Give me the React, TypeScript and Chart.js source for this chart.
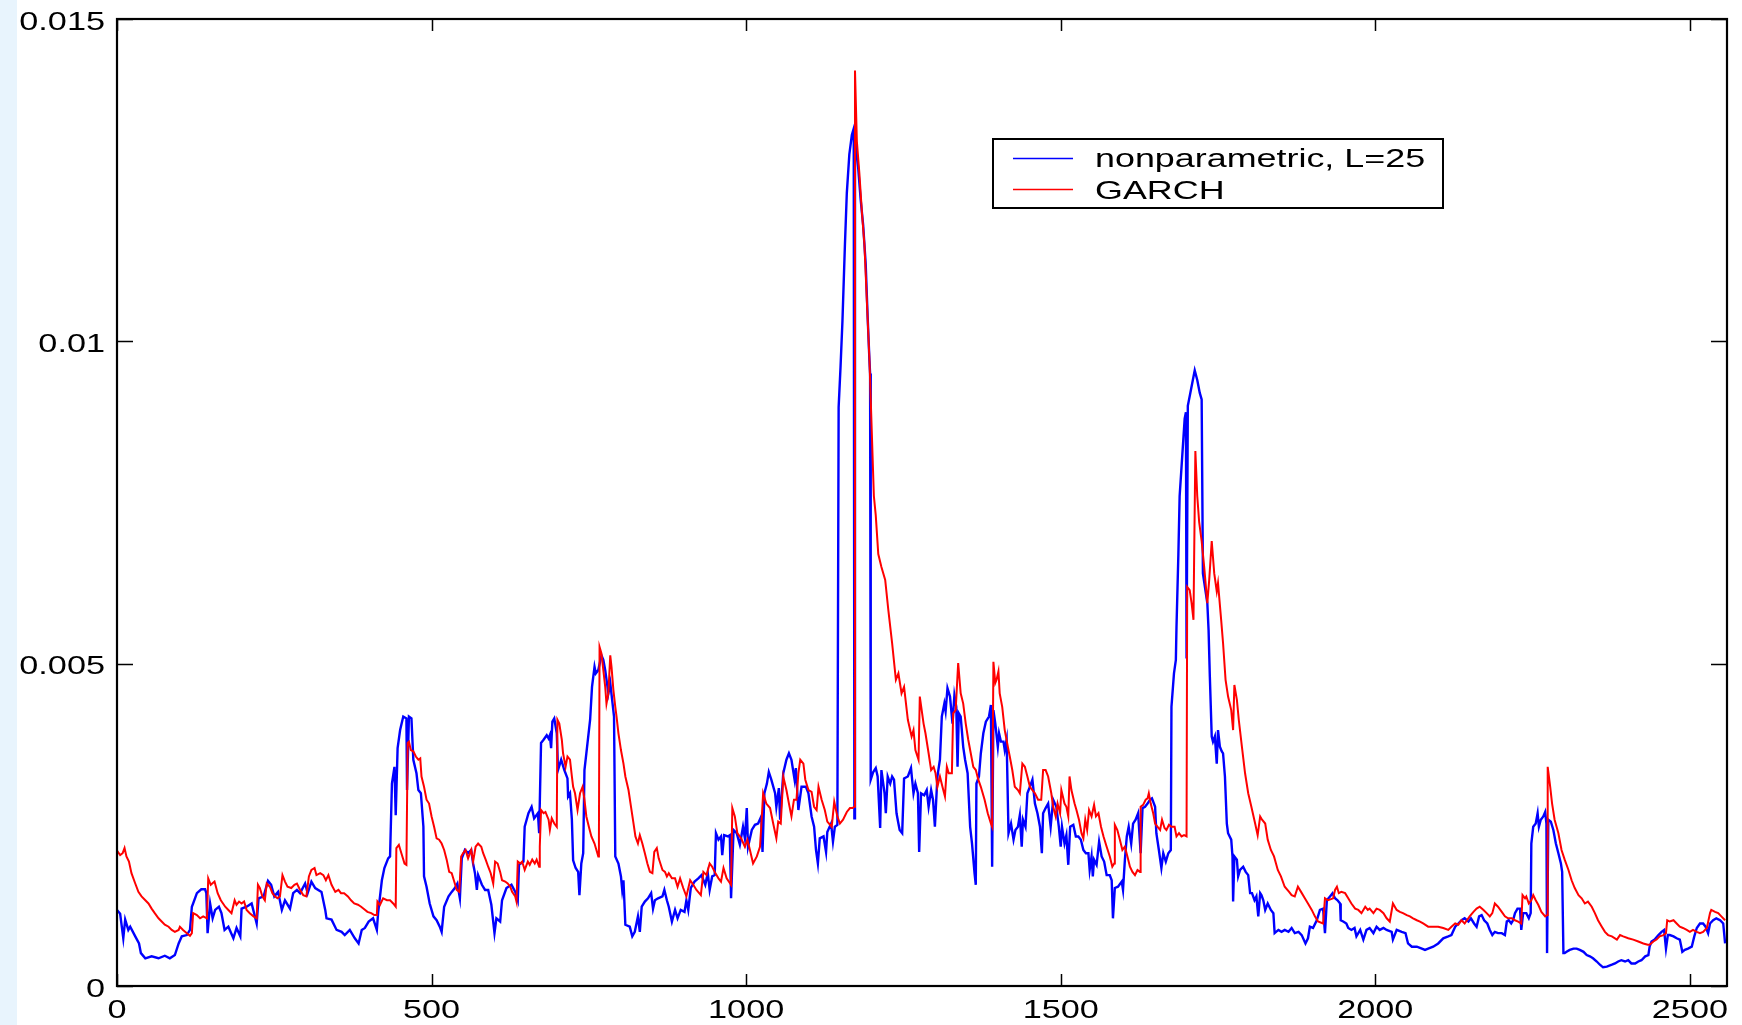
import { useEffect, useRef } from "react";
import { Chart, registerables } from "chart.js";

Chart.register(...registerables);

// Daily volatility estimates, [day index, value in units of 1e-3]
const nonparametricPoints: [number, number][] = [
  [0,1.18],[5,1.12],[10,0.74],[13,1.03],[18,0.87],[21,0.92],[29,0.77],[35,0.66],[38,0.51],[45,0.43],[55,0.46],[66,0.43],[76,0.47],[84,0.43],[92,0.48],[98,0.66],[103,0.77],[111,0.79],[116,0.87],[119,1.23],[121,1.28],[127,1.44],[134,1.5],[140,1.5],[142,1.44],[144,0.82],[148,1.28],[152,1.05],[156,1.18],[162,1.23],[166,1.13],[171,0.87],[177,0.92],[185,0.74],[190,0.9],[196,0.77],[198,1.2],[206,1.23],[214,1.28],[222,0.97],[225,1.36],[233,1.39],[240,1.63],[245,1.57],[250,1.39],[256,1.46],[262,1.18],[267,1.33],[275,1.2],[280,1.44],[286,1.49],[291,1.44],[299,1.59],[303,1.44],[309,1.62],[315,1.52],[325,1.46],[331,1.18],[333,1.05],[341,1.03],[349,0.87],[357,0.84],[362,0.79],[370,0.87],[378,0.74],[384,0.66],[389,0.87],[394,0.9],[400,1.0],[407,1.05],[413,0.87],[415,1.13],[421,1.64],[425,1.83],[431,1.98],[434,2.01],[437,3.14],[441,3.4],[443,2.65],[446,3.69],[450,3.97],[455,4.18],[460,4.15],[461,3.04],[464,4.18],[468,4.15],[471,3.51],[476,3.3],[479,3.04],[483,2.99],[487,2.47],[488,1.7],[492,1.54],[497,1.28],[503,1.08],[508,1.02],[513,0.92],[516,0.84],[520,1.23],[527,1.39],[532,1.46],[537,1.52],[541,1.59],[545,1.36],[548,1.98],[553,2.11],[558,2.06],[563,2.11],[566,1.9],[569,1.75],[572,1.49],[574,1.72],[580,1.57],[585,1.49],[590,1.49],[595,1.26],[600,0.82],[603,1.05],[609,1.0],[612,1.33],[619,1.52],[627,1.57],[633,1.46],[637,1.33],[639,1.88],[646,1.93],[648,2.47],[654,2.68],[659,2.78],[663,2.6],[669,2.68],[671,2.37],[674,3.77],[678,3.82],[683,3.89],[686,3.84],[688,3.89],[690,3.69],[692,4.1],[695,4.15],[699,3.92],[701,3.35],[706,3.51],[711,3.35],[716,3.22],[717,2.94],[720,2.99],[723,2.58],[725,1.95],[729,1.83],[733,1.77],[735,1.41],[738,1.9],[741,2.06],[743,3.35],[746,3.61],[752,4.13],[755,4.64],[759,4.95],[761,4.85],[765,4.9],[770,5.13],[773,5.06],[776,4.9],[781,4.54],[784,4.7],[787,4.44],[790,4.18],[792,2.01],[797,1.9],[801,1.7],[803,1.49],[805,1.64],[808,0.95],[815,0.92],[819,0.77],[823,0.84],[828,1.08],[831,0.84],[834,1.23],[839,1.31],[844,1.36],[849,1.44],[852,1.2],[855,1.33],[860,1.36],[867,1.39],[870,1.49],[874,1.33],[877,1.23],[882,1.0],[887,1.18],[891,1.05],[896,1.18],[902,1.15],[905,1.33],[908,1.18],[912,1.52],[918,1.62],[924,1.67],[929,1.72],[935,1.57],[939,1.75],[942,1.49],[946,1.7],[950,1.72],[952,2.37],[956,2.27],[960,2.32],[962,2.03],[965,2.34],[971,2.32],[974,2.34],[976,1.36],[980,2.42],[985,2.37],[990,2.19],[995,2.47],[998,2.29],[1001,2.76],[1003,2.16],[1009,2.42],[1014,2.5],[1019,2.52],[1024,2.63],[1026,2.08],[1029,2.99],[1033,3.14],[1036,3.32],[1040,3.2],[1046,2.99],[1048,2.78],[1052,3.07],[1054,2.58],[1059,3.3],[1064,3.51],[1068,3.61],[1072,3.51],[1077,3.2],[1079,3.38],[1083,2.73],[1088,3.09],[1095,3.09],[1099,2.99],[1104,2.63],[1108,2.47],[1111,2.11],[1114,1.9],[1117,2.29],[1123,2.32],[1127,2.08],[1129,2.39],[1135,2.52],[1138,2.24],[1141,2.47],[1145,2.5],[1147,8.98],[1150,9.6],[1153,10.3],[1157,11.5],[1160,12.3],[1164,12.9],[1168,13.2],[1171,13.3],[1172,2.6],[1173,13.2],[1178,12.7],[1182,12.2],[1186,11.8],[1190,11.2],[1193,10.4],[1196,9.7],[1197,9.5],[1198,3.2],[1202,3.32],[1206,3.38],[1209,3.25],[1213,2.45],[1215,3.35],[1220,2.99],[1222,2.68],[1225,3.25],[1229,3.14],[1232,3.25],[1235,3.2],[1239,2.68],[1242,2.52],[1244,2.42],[1248,2.37],[1251,3.22],[1257,3.25],[1262,3.38],[1266,2.99],[1269,3.14],[1273,2.99],[1275,2.08],[1278,2.99],[1283,2.96],[1287,3.04],[1290,2.78],[1294,3.04],[1297,2.89],[1300,2.47],[1304,3.25],[1308,3.51],[1311,4.18],[1315,4.38],[1317,4.26],[1320,4.62],[1324,4.49],[1328,4.07],[1331,4.51],[1334,4.33],[1336,3.4],[1338,4.23],[1341,4.18],[1345,3.71],[1348,3.51],[1352,3.3],[1356,2.47],[1359,2.21],[1363,1.75],[1365,1.57],[1366,3.14],[1370,3.25],[1373,3.61],[1377,3.92],[1381,4.1],[1386,4.18],[1389,4.36],[1391,1.85],[1393,4.28],[1396,4.07],[1400,3.71],[1402,3.92],[1405,3.79],[1409,3.79],[1411,3.66],[1414,3.82],[1417,2.37],[1421,2.52],[1425,2.27],[1428,2.42],[1432,2.47],[1435,2.65],[1438,2.16],[1440,2.58],[1444,2.47],[1447,2.99],[1451,3.09],[1455,3.2],[1459,2.83],[1463,2.68],[1467,2.47],[1470,2.06],[1472,2.68],[1476,2.76],[1480,2.83],[1484,2.47],[1488,2.89],[1493,2.78],[1497,2.47],[1500,2.16],[1502,2.47],[1506,2.21],[1509,2.34],[1512,1.88],[1515,2.47],[1520,2.5],[1524,2.32],[1528,2.32],[1532,2.27],[1536,2.11],[1540,2.06],[1544,2.06],[1546,1.8],[1549,2.01],[1551,1.7],[1553,1.96],[1557,1.88],[1561,2.24],[1565,2.01],[1569,1.93],[1573,1.72],[1578,1.72],[1581,1.64],[1583,1.05],[1586,1.52],[1591,1.54],[1597,1.62],[1599,1.49],[1602,1.96],[1605,2.32],[1608,2.47],[1612,2.21],[1615,2.52],[1619,2.58],[1623,2.68],[1627,2.06],[1630,2.76],[1634,2.78],[1638,2.83],[1642,2.89],[1645,2.91],[1650,2.78],[1652,2.37],[1656,2.11],[1660,1.83],[1663,2.06],[1667,1.93],[1671,2.06],[1675,2.11],[1676,4.33],[1680,4.85],[1683,5.06],[1684,5.57],[1687,6.7],[1689,7.6],[1693,8.2],[1697,8.8],[1699,8.9],[1700,5.08],[1702,9.0],[1706,9.2],[1710,9.4],[1713,9.55],[1717,9.4],[1721,9.2],[1724,9.1],[1726,6.4],[1733,5.94],[1735,5.52],[1737,4.8],[1740,3.87],[1742,3.79],[1745,3.87],[1748,3.45],[1750,3.97],[1753,3.71],[1756,3.64],[1758,3.61],[1761,3.25],[1764,2.52],[1766,2.37],[1771,2.27],[1773,2.01],[1774,1.31],[1776,2.01],[1780,1.96],[1782,1.7],[1785,1.8],[1790,1.85],[1794,1.77],[1798,1.72],[1801,1.44],[1804,1.44],[1808,1.33],[1811,1.39],[1814,1.08],[1817,1.44],[1819,1.41],[1822,1.33],[1825,1.18],[1829,1.28],[1834,1.18],[1838,1.13],[1840,0.82],[1846,0.87],[1851,0.84],[1856,0.87],[1862,0.84],[1867,0.9],[1872,0.82],[1878,0.84],[1883,0.79],[1889,0.66],[1893,0.74],[1896,0.92],[1901,0.9],[1907,1.02],[1912,1.18],[1917,1.2],[1920,0.82],[1923,1.33],[1928,1.39],[1932,1.44],[1936,1.36],[1940,1.33],[1944,1.28],[1945,1.02],[1949,1.0],[1954,0.97],[1957,0.9],[1962,0.87],[1967,0.9],[1970,0.77],[1976,0.87],[1981,0.72],[1986,0.87],[1991,0.9],[1997,0.82],[2002,0.92],[2007,0.87],[2013,0.9],[2018,0.87],[2026,0.84],[2028,0.72],[2034,0.87],[2042,0.84],[2048,0.82],[2052,0.66],[2058,0.61],[2066,0.61],[2074,0.58],[2079,0.56],[2084,0.58],[2092,0.61],[2100,0.66],[2108,0.74],[2116,0.77],[2121,0.79],[2127,0.92],[2132,0.97],[2137,1.02],[2142,1.05],[2148,1.0],[2152,1.05],[2157,0.97],[2161,0.92],[2165,1.08],[2169,1.1],[2173,1.02],[2178,0.97],[2182,0.87],[2186,0.79],[2190,0.84],[2195,0.82],[2201,0.82],[2206,0.79],[2209,1.0],[2212,1.02],[2216,0.97],[2219,1.02],[2222,1.13],[2226,1.2],[2230,1.2],[2232,0.87],[2235,1.13],[2240,1.13],[2244,1.05],[2247,1.13],[2248,2.21],[2251,2.47],[2255,2.52],[2258,2.68],[2260,2.47],[2263,2.58],[2267,2.63],[2270,2.7],[2272,2.52],[2273,0.51],[2275,2.58],[2279,2.55],[2283,2.42],[2287,2.21],[2291,2.06],[2295,1.9],[2297,1.77],[2299,0.51],[2301,0.51],[2304,0.53],[2309,0.56],[2315,0.58],[2320,0.58],[2325,0.56],[2331,0.53],[2336,0.48],[2341,0.46],[2346,0.43],[2352,0.38],[2357,0.33],[2362,0.29],[2368,0.3],[2376,0.33],[2381,0.35],[2386,0.38],[2391,0.4],[2397,0.38],[2402,0.4],[2407,0.35],[2413,0.35],[2418,0.38],[2423,0.4],[2429,0.46],[2434,0.48],[2436,0.61],[2439,0.69],[2444,0.72],[2450,0.79],[2455,0.84],[2459,0.87],[2462,0.58],[2465,0.79],[2468,0.79],[2474,0.77],[2479,0.74],[2484,0.72],[2488,0.53],[2492,0.56],[2497,0.58],[2503,0.61],[2507,0.77],[2511,0.9],[2516,0.97],[2521,0.97],[2525,0.92],[2529,0.82],[2532,0.97],[2537,1.02],[2542,1.05],[2548,1.02],[2553,0.97],[2556,0.66],
];

const garchPoints: [number, number][] = [
  [0,2.1],[5,2.03],[9,2.06],[12,2.14],[15,2.01],[19,1.93],[23,1.75],[29,1.59],[34,1.46],[39,1.39],[45,1.33],[50,1.28],[55,1.2],[60,1.13],[66,1.05],[71,1.0],[76,0.95],[82,0.92],[87,0.87],[92,0.84],[98,0.87],[100,0.92],[105,0.87],[111,0.82],[116,0.78],[119,0.82],[121,1.13],[127,1.1],[132,1.05],[137,1.08],[143,1.05],[145,1.67],[149,1.57],[155,1.62],[160,1.44],[165,1.33],[172,1.23],[177,1.18],[182,1.13],[187,1.33],[190,1.26],[194,1.31],[198,1.28],[202,1.31],[206,1.18],[211,1.13],[217,1.08],[222,1.05],[224,1.57],[227,1.52],[231,1.39],[235,1.33],[238,1.59],[243,1.54],[247,1.44],[251,1.39],[255,1.36],[259,1.39],[263,1.72],[267,1.62],[271,1.54],[277,1.52],[282,1.57],[286,1.59],[291,1.49],[296,1.41],[301,1.39],[305,1.7],[309,1.8],[314,1.83],[317,1.72],[323,1.75],[328,1.72],[332,1.64],[336,1.72],[341,1.57],[347,1.46],[352,1.49],[356,1.44],[361,1.44],[367,1.39],[372,1.33],[377,1.28],[383,1.26],[388,1.23],[393,1.19],[398,1.15],[404,1.13],[409,1.1],[413,1.1],[414,1.31],[418,1.26],[423,1.36],[429,1.33],[434,1.33],[439,1.28],[443,1.23],[444,2.14],[448,2.19],[452,2.06],[457,1.9],[460,1.88],[462,3.77],[464,3.79],[467,3.66],[471,3.64],[475,3.56],[479,3.51],[482,3.53],[484,3.25],[488,3.09],[492,2.89],[496,2.83],[500,2.63],[504,2.47],[508,2.29],[512,2.27],[516,2.21],[520,2.11],[524,1.96],[528,1.77],[532,1.75],[536,1.62],[540,1.49],[544,1.46],[547,2.01],[550,2.06],[554,2.11],[558,1.98],[563,2.11],[566,1.93],[570,2.16],[574,2.21],[579,2.16],[582,2.06],[586,1.96],[590,1.85],[594,1.75],[598,1.59],[601,1.93],[605,1.9],[609,1.77],[612,1.64],[617,1.62],[621,1.59],[625,1.54],[628,1.46],[633,1.39],[635,1.31],[637,1.93],[641,1.9],[644,1.93],[648,1.8],[653,1.93],[656,1.88],[660,1.96],[664,1.9],[667,1.96],[671,1.85],[672,2.16],[674,2.73],[678,2.68],[681,2.7],[686,2.58],[688,2.42],[691,2.6],[695,2.52],[699,2.47],[700,4.13],[703,4.07],[707,3.82],[709,3.61],[713,3.4],[716,3.56],[720,3.51],[723,3.25],[725,3.09],[728,2.99],[732,2.73],[736,2.99],[740,3.09],[743,2.89],[746,2.63],[750,2.47],[754,2.32],[759,2.21],[762,2.11],[765,2.01],[766,2.32],[767,5.26],[770,5.16],[773,4.9],[776,4.64],[778,4.38],[781,4.54],[784,5.13],[786,4.95],[789,4.59],[792,4.33],[794,4.18],[797,3.92],[801,3.66],[805,3.45],[808,3.25],[813,3.04],[817,2.78],[821,2.52],[824,2.32],[828,2.21],[831,2.34],[835,2.21],[839,2.06],[843,1.9],[847,1.77],[851,1.75],[854,2.08],[858,2.14],[861,1.98],[867,1.8],[871,1.77],[874,1.7],[877,1.75],[882,1.67],[887,1.67],[891,1.54],[895,1.67],[900,1.52],[905,1.39],[911,1.64],[916,1.57],[921,1.49],[928,1.41],[932,1.77],[937,1.72],[942,1.9],[946,1.85],[950,1.77],[956,1.67],[960,1.62],[964,1.83],[969,1.67],[976,1.57],[978,2.76],[982,2.63],[986,2.37],[992,2.29],[998,2.16],[1002,2.27],[1006,2.11],[1011,1.9],[1017,2.01],[1022,2.16],[1024,2.47],[1027,2.99],[1032,2.83],[1038,2.76],[1043,2.52],[1048,2.29],[1051,2.55],[1055,2.52],[1059,3.25],[1064,3.04],[1068,2.83],[1072,2.63],[1076,2.89],[1080,2.89],[1083,3.3],[1086,3.51],[1091,3.45],[1094,3.2],[1099,3.04],[1104,3.01],[1108,2.78],[1112,2.73],[1115,3.09],[1120,2.89],[1125,2.73],[1129,2.55],[1136,2.47],[1140,2.86],[1145,2.63],[1149,2.52],[1154,2.58],[1160,2.7],[1165,2.76],[1169,2.76],[1172,2.78],[1173,14.2],[1176,13.1],[1180,12.6],[1184,12.0],[1188,11.5],[1192,10.6],[1196,9.7],[1200,8.5],[1203,7.6],[1206,7.3],[1210,6.7],[1215,6.5],[1221,6.3],[1226,5.83],[1232,5.32],[1238,4.75],[1242,4.85],[1247,4.54],[1251,4.64],[1257,4.13],[1263,3.87],[1266,3.97],[1269,3.66],[1274,3.51],[1276,4.49],[1282,4.07],[1285,3.92],[1290,3.61],[1294,3.35],[1298,3.4],[1301,3.3],[1304,3.09],[1308,3.25],[1312,3.09],[1316,2.94],[1319,3.4],[1322,3.3],[1327,3.3],[1329,4.23],[1333,4.28],[1337,5.01],[1341,4.54],[1345,4.38],[1349,4.07],[1353,3.82],[1357,3.61],[1361,3.4],[1365,3.35],[1369,3.2],[1373,3.09],[1379,2.89],[1384,2.68],[1389,2.52],[1391,2.47],[1393,5.03],[1396,4.7],[1398,4.75],[1401,4.88],[1403,4.54],[1407,4.33],[1411,3.97],[1416,3.71],[1419,3.56],[1423,3.35],[1427,3.09],[1432,3.04],[1435,2.99],[1439,3.45],[1443,3.4],[1447,3.25],[1451,3.09],[1455,3.04],[1459,2.99],[1464,2.89],[1469,2.89],[1472,3.35],[1476,3.35],[1480,3.25],[1485,2.99],[1488,2.78],[1492,2.63],[1495,2.83],[1499,2.68],[1501,3.04],[1506,2.83],[1509,2.78],[1512,2.63],[1514,3.25],[1517,3.04],[1522,2.83],[1525,2.73],[1529,2.58],[1533,2.37],[1536,2.29],[1539,2.58],[1542,2.42],[1545,2.73],[1549,2.63],[1553,2.81],[1556,2.63],[1560,2.68],[1564,2.47],[1568,2.32],[1573,2.16],[1578,2.01],[1582,1.85],[1585,1.9],[1586,2.5],[1590,2.42],[1594,2.27],[1598,2.11],[1602,2.16],[1606,2.01],[1610,1.85],[1614,1.77],[1618,1.72],[1622,1.8],[1626,1.77],[1627,2.78],[1631,2.81],[1635,2.89],[1638,2.91],[1640,2.99],[1643,2.83],[1647,2.68],[1650,2.52],[1654,2.47],[1658,2.42],[1661,2.58],[1665,2.45],[1668,2.42],[1672,2.5],[1676,2.47],[1681,2.47],[1684,2.32],[1688,2.37],[1692,2.32],[1696,2.34],[1700,2.32],[1701,6.19],[1705,6.14],[1708,5.94],[1711,5.68],[1712,6.6],[1714,8.3],[1717,7.6],[1720,7.2],[1724,6.9],[1728,6.5],[1733,5.94],[1736,6.3],[1740,6.9],[1744,6.4],[1748,6.12],[1750,6.25],[1755,5.68],[1758,5.32],[1762,4.75],[1766,4.49],[1771,4.28],[1774,3.97],[1776,4.67],[1780,4.44],[1783,4.13],[1788,3.71],[1793,3.3],[1798,2.99],[1803,2.78],[1809,2.52],[1813,2.34],[1817,2.63],[1820,2.58],[1825,2.52],[1829,2.27],[1834,2.11],[1839,2.01],[1845,1.8],[1850,1.7],[1856,1.54],[1863,1.46],[1867,1.41],[1872,1.39],[1877,1.54],[1882,1.46],[1888,1.36],[1893,1.28],[1899,1.18],[1904,1.08],[1909,1.0],[1917,0.97],[1920,1.36],[1925,1.33],[1933,1.36],[1936,1.49],[1939,1.54],[1942,1.44],[1946,1.46],[1952,1.44],[1957,1.36],[1962,1.28],[1968,1.2],[1973,1.18],[1978,1.13],[1984,1.23],[1988,1.18],[1991,1.2],[1997,1.13],[2002,1.2],[2007,1.18],[2013,1.13],[2018,1.05],[2023,1.0],[2028,1.28],[2034,1.18],[2039,1.15],[2044,1.13],[2050,1.1],[2055,1.08],[2060,1.05],[2066,1.02],[2071,1.0],[2076,0.97],[2084,0.92],[2092,0.92],[2100,0.92],[2108,0.9],[2116,0.87],[2121,0.92],[2127,0.97],[2132,0.95],[2137,1.02],[2142,0.97],[2150,1.08],[2156,1.15],[2161,1.2],[2166,1.23],[2172,1.18],[2177,1.13],[2182,1.08],[2186,1.13],[2190,1.28],[2195,1.23],[2201,1.15],[2206,1.08],[2211,1.05],[2217,1.05],[2222,1.02],[2227,1.0],[2232,0.97],[2234,1.41],[2238,1.36],[2240,1.39],[2244,1.28],[2248,1.33],[2251,1.41],[2255,1.33],[2259,1.26],[2264,1.15],[2270,1.08],[2273,1.1],[2274,3.4],[2278,3.09],[2281,2.83],[2285,2.58],[2291,2.37],[2296,2.11],[2301,1.96],[2307,1.8],[2312,1.64],[2317,1.52],[2323,1.41],[2328,1.36],[2333,1.28],[2338,1.31],[2344,1.23],[2349,1.13],[2354,1.02],[2360,0.92],[2365,0.84],[2370,0.79],[2376,0.77],[2384,0.72],[2389,0.79],[2394,0.77],[2402,0.74],[2410,0.72],[2418,0.69],[2426,0.66],[2433,0.64],[2436,0.64],[2442,0.69],[2447,0.72],[2452,0.77],[2458,0.79],[2462,0.82],[2464,1.02],[2468,1.0],[2474,1.02],[2479,0.97],[2484,0.92],[2489,0.9],[2495,0.87],[2500,0.84],[2505,0.87],[2511,0.84],[2516,0.82],[2521,0.84],[2527,0.9],[2532,1.13],[2534,1.18],[2540,1.15],[2545,1.13],[2550,1.08],[2556,1.02],
];

const seriesLabels = ["nonparametric, L=25", "GARCH"];
const seriesColors = ["#0000ff", "#ff0000"];
const seriesWidths = [2.4, 2];
const xTicks = [0, 500, 1000, 1500, 2000, 2500];
const yTicks = [0, 0.005, 0.01, 0.015];
const yTickLabels = ["0", "0.005", "0.01", "0.015"];
const X_MAX = 2559;
const Y_MAX = 0.015;
const UNIT = 1e-3;

const FONT = '"Liberation Sans", Arial, Helvetica, sans-serif';
const TEXT_STRETCH = 1.37;

function stretchedText(
  ctx: CanvasRenderingContext2D,
  text: string,
  x: number,
  y: number,
  align: CanvasTextAlign,
  sx: number
) {
  ctx.save();
  ctx.translate(x, y);
  ctx.scale(sx, 1);
  ctx.textAlign = align;
  ctx.textBaseline = "alphabetic";
  ctx.fillText(text, 0, 0);
  ctx.restore();
}

// Boxed axes with inward ticks on all four sides, tick labels and the legend
const boxedAxes = {
  id: "boxedAxes",
  afterDraw(chart: any) {
    const { ctx, chartArea: a, scales } = chart;
    const xs = scales.x;
    const ys = scales.y;
    ctx.save();
    ctx.strokeStyle = "#000";
    ctx.fillStyle = "#000";

    ctx.lineWidth = 1.5;
    ctx.beginPath();
    for (const t of xTicks) {
      const px = Math.round(xs.getPixelForValue(t)) + 0.5;
      ctx.moveTo(px, a.bottom);
      ctx.lineTo(px, a.bottom - 12);
      ctx.moveTo(px, a.top);
      ctx.lineTo(px, a.top + 12);
    }
    for (const t of yTicks) {
      const py = Math.round(ys.getPixelForValue(t)) + 0.5;
      ctx.moveTo(a.left, py);
      ctx.lineTo(a.left + 16, py);
      ctx.moveTo(a.right, py);
      ctx.lineTo(a.right - 16, py);
    }
    ctx.stroke();

    ctx.lineWidth = 2.2;
    ctx.strokeRect(a.left, a.top, a.right - a.left, a.bottom - a.top);

    ctx.font = `25px ${FONT}`;
    xTicks.forEach((t) => {
      stretchedText(ctx, String(t), xs.getPixelForValue(t), a.bottom + 32, "center", TEXT_STRETCH);
    });
    yTicks.forEach((t, i) => {
      stretchedText(ctx, yTickLabels[i], a.left - 12, ys.getPixelForValue(t) + 10.5, "right", TEXT_STRETCH);
    });

    // legend
    const lx = a.left + 876;
    const ly = a.top + 120;
    const lw = 450;
    const lh = 69;
    ctx.fillStyle = "#fff";
    ctx.fillRect(lx, ly, lw, lh);
    ctx.lineWidth = 2;
    ctx.strokeStyle = "#000";
    ctx.strokeRect(lx, ly, lw, lh);
    const rows = [19.5, 50.5];
    const baselines = [28, 60];
    ctx.font = `26px ${FONT}`;
    seriesLabels.forEach((label, i) => {
      ctx.strokeStyle = seriesColors[i];
      ctx.lineWidth = 1.5;
      ctx.beginPath();
      ctx.moveTo(lx + 20, ly + rows[i]);
      ctx.lineTo(lx + 80, ly + rows[i]);
      ctx.stroke();
      ctx.fillStyle = "#000";
      stretchedText(ctx, label, lx + 102, ly + baselines[i], "left", 1.38);
    });
    ctx.restore();
  },
};

export default function App() {
  const canvasRef = useRef<HTMLCanvasElement | null>(null);

  useEffect(() => {
    const canvas = canvasRef.current;
    if (!canvas) return;
    const toXY = (pts: [number, number][]) => pts.map(([d, v]) => ({ x: d, y: v * UNIT }));
    const chart = new Chart(canvas, {
      type: "line",
      data: {
        datasets: [
          {
            label: seriesLabels[0],
            data: toXY(nonparametricPoints),
            borderColor: seriesColors[0],
            borderWidth: seriesWidths[0],
            pointRadius: 0,
            tension: 0,
            order: 1,
          },
          {
            label: seriesLabels[1],
            data: toXY(garchPoints),
            borderColor: seriesColors[1],
            borderWidth: seriesWidths[1],
            pointRadius: 0,
            tension: 0,
            order: 0,
          },
        ],
      },
      options: {
        animation: false,
        responsive: false,
        devicePixelRatio: 1,
        layout: { padding: { left: 117, right: 15, top: 19, bottom: 39 } },
        plugins: { legend: { display: false }, tooltip: { enabled: false } },
        scales: {
          x: { type: "linear", min: 0, max: X_MAX, display: false },
          y: { type: "linear", min: 0, max: Y_MAX, display: false },
        },
      },
      plugins: [boxedAxes],
    });
    return () => chart.destroy();
  }, []);

  return (
    <div style={{ position: "fixed", left: 0, top: 0, width: 1742, height: 1025, background: "#fff" }}>
      <div style={{ position: "absolute", left: 0, top: 0, width: 17, height: 1025, background: "#e8f4fd" }} />
      <canvas ref={canvasRef} width={1742} height={1025} style={{ position: "absolute", left: 0, top: 0 }} />
    </div>
  );
}
